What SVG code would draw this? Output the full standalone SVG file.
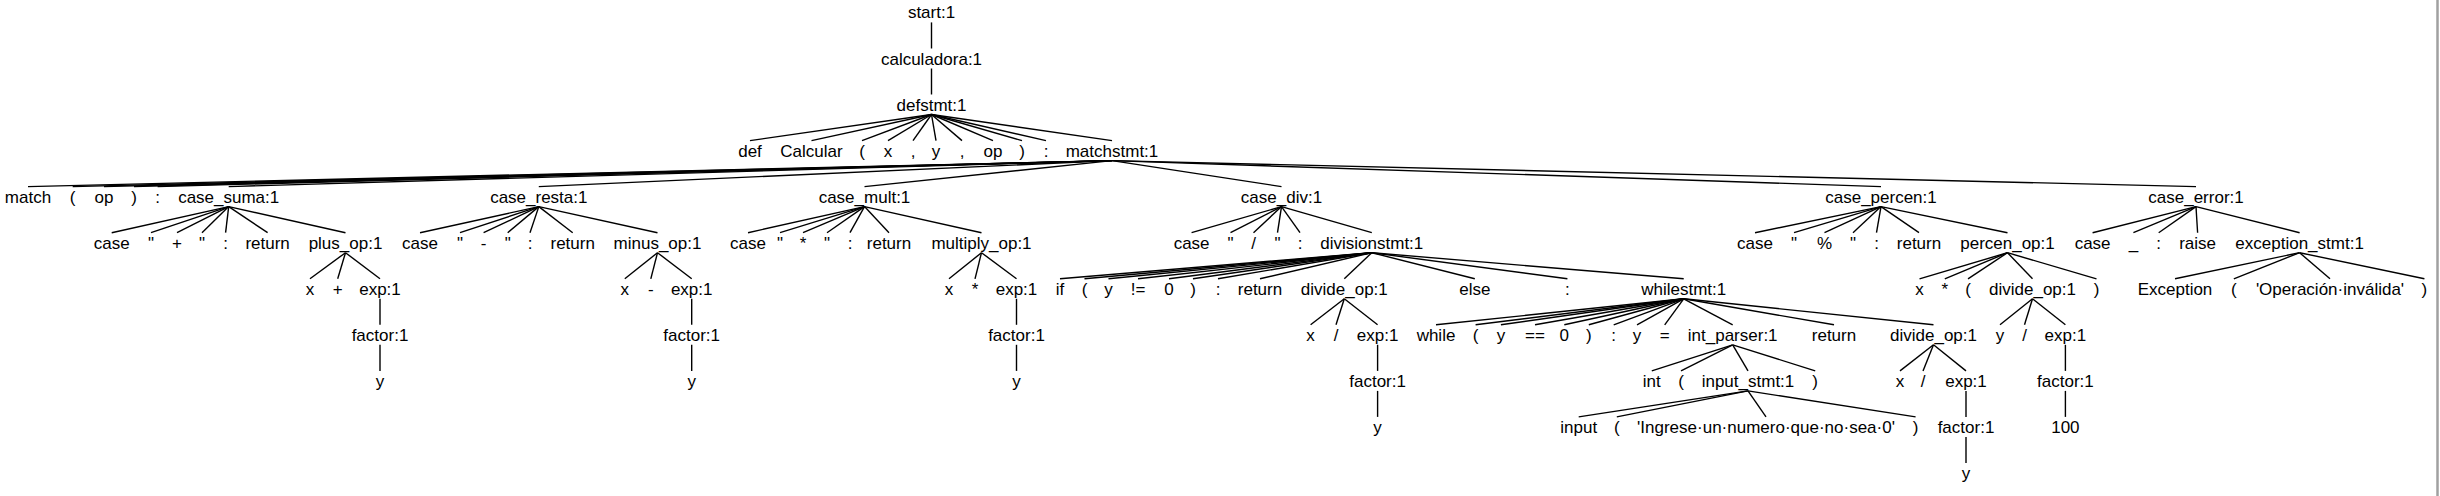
<svg xmlns="http://www.w3.org/2000/svg" width="2440" height="496" viewBox="0 0 2440 496">
<style>
text { font-family: "Liberation Sans", Arial, Helvetica, sans-serif; font-size: 17px; text-anchor: middle; fill: #000; }
#connectors line { stroke: #000; stroke-width: 1.4; }
</style>
<rect width="2440" height="496" fill="#fff"/>
<line x1="2437.5" y1="0" x2="2437.5" y2="496" stroke="#a0a0a0" stroke-width="2.5"/>
<g id="connectors">
<line x1="931.5" y1="22.4" x2="931.5" y2="48.5"/>
<line x1="931.5" y1="68.5" x2="931.5" y2="94.5"/>
<line x1="931.5" y1="114.5" x2="750" y2="140.6"/>
<line x1="931.5" y1="114.5" x2="811.5" y2="140.6"/>
<line x1="931.5" y1="114.5" x2="862" y2="140.6"/>
<line x1="931.5" y1="114.5" x2="888" y2="140.6"/>
<line x1="931.5" y1="114.5" x2="913" y2="140.6"/>
<line x1="931.5" y1="114.5" x2="936" y2="140.6"/>
<line x1="931.5" y1="114.5" x2="962" y2="140.6"/>
<line x1="931.5" y1="114.5" x2="993" y2="140.6"/>
<line x1="931.5" y1="114.5" x2="1022" y2="140.6"/>
<line x1="931.5" y1="114.5" x2="1046" y2="140.6"/>
<line x1="931.5" y1="114.5" x2="1112" y2="140.6"/>
<line x1="1112" y1="160.6" x2="28" y2="186.6"/>
<line x1="1112" y1="160.6" x2="72.7" y2="186.6"/>
<line x1="1112" y1="160.6" x2="104" y2="186.6"/>
<line x1="1112" y1="160.6" x2="134" y2="186.6"/>
<line x1="1112" y1="160.6" x2="157.6" y2="186.6"/>
<line x1="1112" y1="160.6" x2="228.7" y2="186.6"/>
<line x1="1112" y1="160.6" x2="538.8" y2="186.6"/>
<line x1="1112" y1="160.6" x2="864.5" y2="186.6"/>
<line x1="1112" y1="160.6" x2="1281.5" y2="186.6"/>
<line x1="1112" y1="160.6" x2="1881" y2="186.6"/>
<line x1="1112" y1="160.6" x2="2196" y2="186.6"/>
<line x1="228.7" y1="206.6" x2="111.7" y2="232.7"/>
<line x1="228.7" y1="206.6" x2="151" y2="232.7"/>
<line x1="228.7" y1="206.6" x2="177" y2="232.7"/>
<line x1="228.7" y1="206.6" x2="202" y2="232.7"/>
<line x1="228.7" y1="206.6" x2="225.6" y2="232.7"/>
<line x1="228.7" y1="206.6" x2="267.6" y2="232.7"/>
<line x1="228.7" y1="206.6" x2="345.5" y2="232.7"/>
<line x1="538.8" y1="206.6" x2="420" y2="232.7"/>
<line x1="538.8" y1="206.6" x2="460" y2="232.7"/>
<line x1="538.8" y1="206.6" x2="483.6" y2="232.7"/>
<line x1="538.8" y1="206.6" x2="507.7" y2="232.7"/>
<line x1="538.8" y1="206.6" x2="530" y2="232.7"/>
<line x1="538.8" y1="206.6" x2="572.7" y2="232.7"/>
<line x1="538.8" y1="206.6" x2="657.5" y2="232.7"/>
<line x1="864.5" y1="206.6" x2="748" y2="232.7"/>
<line x1="864.5" y1="206.6" x2="780" y2="232.7"/>
<line x1="864.5" y1="206.6" x2="803" y2="232.7"/>
<line x1="864.5" y1="206.6" x2="827" y2="232.7"/>
<line x1="864.5" y1="206.6" x2="850" y2="232.7"/>
<line x1="864.5" y1="206.6" x2="889" y2="232.7"/>
<line x1="864.5" y1="206.6" x2="981.5" y2="232.7"/>
<line x1="1281.5" y1="206.6" x2="1191.6" y2="232.7"/>
<line x1="1281.5" y1="206.6" x2="1230.5" y2="232.7"/>
<line x1="1281.5" y1="206.6" x2="1253.5" y2="232.7"/>
<line x1="1281.5" y1="206.6" x2="1277.5" y2="232.7"/>
<line x1="1281.5" y1="206.6" x2="1300" y2="232.7"/>
<line x1="1281.5" y1="206.6" x2="1371.8" y2="232.7"/>
<line x1="1881" y1="206.6" x2="1755" y2="232.7"/>
<line x1="1881" y1="206.6" x2="1794" y2="232.7"/>
<line x1="1881" y1="206.6" x2="1824.5" y2="232.7"/>
<line x1="1881" y1="206.6" x2="1853" y2="232.7"/>
<line x1="1881" y1="206.6" x2="1876.5" y2="232.7"/>
<line x1="1881" y1="206.6" x2="1919" y2="232.7"/>
<line x1="1881" y1="206.6" x2="2007.5" y2="232.7"/>
<line x1="2196" y1="206.6" x2="2092.6" y2="232.7"/>
<line x1="2196" y1="206.6" x2="2133.4" y2="232.7"/>
<line x1="2196" y1="206.6" x2="2158.7" y2="232.7"/>
<line x1="2196" y1="206.6" x2="2197.6" y2="232.7"/>
<line x1="2196" y1="206.6" x2="2299.6" y2="232.7"/>
<line x1="345.5" y1="252.7" x2="310" y2="278.8"/>
<line x1="345.5" y1="252.7" x2="337.7" y2="278.8"/>
<line x1="345.5" y1="252.7" x2="380" y2="278.8"/>
<line x1="657.5" y1="252.7" x2="624.8" y2="278.8"/>
<line x1="657.5" y1="252.7" x2="650.8" y2="278.8"/>
<line x1="657.5" y1="252.7" x2="691.7" y2="278.8"/>
<line x1="981.5" y1="252.7" x2="949" y2="278.8"/>
<line x1="981.5" y1="252.7" x2="975" y2="278.8"/>
<line x1="981.5" y1="252.7" x2="1016.5" y2="278.8"/>
<line x1="1371.8" y1="252.7" x2="1060" y2="278.8"/>
<line x1="1371.8" y1="252.7" x2="1084.5" y2="278.8"/>
<line x1="1371.8" y1="252.7" x2="1108.5" y2="278.8"/>
<line x1="1371.8" y1="252.7" x2="1138" y2="278.8"/>
<line x1="1371.8" y1="252.7" x2="1169" y2="278.8"/>
<line x1="1371.8" y1="252.7" x2="1193" y2="278.8"/>
<line x1="1371.8" y1="252.7" x2="1218" y2="278.8"/>
<line x1="1371.8" y1="252.7" x2="1260" y2="278.8"/>
<line x1="1371.8" y1="252.7" x2="1344.3" y2="278.8"/>
<line x1="1371.8" y1="252.7" x2="1474.8" y2="278.8"/>
<line x1="1371.8" y1="252.7" x2="1567.4" y2="278.8"/>
<line x1="1371.8" y1="252.7" x2="1683.7" y2="278.8"/>
<line x1="2007.5" y1="252.7" x2="1919.5" y2="278.8"/>
<line x1="2007.5" y1="252.7" x2="1944.8" y2="278.8"/>
<line x1="2007.5" y1="252.7" x2="1968" y2="278.8"/>
<line x1="2007.5" y1="252.7" x2="2032.5" y2="278.8"/>
<line x1="2007.5" y1="252.7" x2="2096.5" y2="278.8"/>
<line x1="2299.6" y1="252.7" x2="2175" y2="278.8"/>
<line x1="2299.6" y1="252.7" x2="2233.8" y2="278.8"/>
<line x1="2299.6" y1="252.7" x2="2330" y2="278.8"/>
<line x1="2299.6" y1="252.7" x2="2424.4" y2="278.8"/>
<line x1="380" y1="298.8" x2="380" y2="324.8"/>
<line x1="691.7" y1="298.8" x2="691.7" y2="324.8"/>
<line x1="1016.5" y1="298.8" x2="1016.5" y2="324.8"/>
<line x1="1344.3" y1="298.8" x2="1310.6" y2="324.8"/>
<line x1="1344.3" y1="298.8" x2="1336" y2="324.8"/>
<line x1="1344.3" y1="298.8" x2="1377.6" y2="324.8"/>
<line x1="1683.7" y1="298.8" x2="1436" y2="324.8"/>
<line x1="1683.7" y1="298.8" x2="1475.6" y2="324.8"/>
<line x1="1683.7" y1="298.8" x2="1500.9" y2="324.8"/>
<line x1="1683.7" y1="298.8" x2="1535" y2="324.8"/>
<line x1="1683.7" y1="298.8" x2="1564.3" y2="324.8"/>
<line x1="1683.7" y1="298.8" x2="1588.8" y2="324.8"/>
<line x1="1683.7" y1="298.8" x2="1613.7" y2="324.8"/>
<line x1="1683.7" y1="298.8" x2="1637" y2="324.8"/>
<line x1="1683.7" y1="298.8" x2="1664.7" y2="324.8"/>
<line x1="1683.7" y1="298.8" x2="1732.7" y2="324.8"/>
<line x1="1683.7" y1="298.8" x2="1834" y2="324.8"/>
<line x1="1683.7" y1="298.8" x2="1933.5" y2="324.8"/>
<line x1="2032.5" y1="298.8" x2="2000" y2="324.8"/>
<line x1="2032.5" y1="298.8" x2="2024.5" y2="324.8"/>
<line x1="2032.5" y1="298.8" x2="2065.4" y2="324.8"/>
<line x1="380" y1="344.8" x2="380" y2="370.9"/>
<line x1="691.7" y1="344.8" x2="691.7" y2="370.9"/>
<line x1="1016.5" y1="344.8" x2="1016.5" y2="370.9"/>
<line x1="1377.6" y1="344.8" x2="1377.6" y2="370.9"/>
<line x1="1732.7" y1="344.8" x2="1651.8" y2="370.9"/>
<line x1="1732.7" y1="344.8" x2="1681" y2="370.9"/>
<line x1="1732.7" y1="344.8" x2="1748" y2="370.9"/>
<line x1="1732.7" y1="344.8" x2="1815.2" y2="370.9"/>
<line x1="1933.5" y1="344.8" x2="1900" y2="370.9"/>
<line x1="1933.5" y1="344.8" x2="1923" y2="370.9"/>
<line x1="1933.5" y1="344.8" x2="1966" y2="370.9"/>
<line x1="2065.4" y1="344.8" x2="2065.4" y2="370.9"/>
<line x1="1377.6" y1="390.9" x2="1377.6" y2="416.9"/>
<line x1="1748" y1="390.9" x2="1578.7" y2="416.9"/>
<line x1="1748" y1="390.9" x2="1616.8" y2="416.9"/>
<line x1="1748" y1="390.9" x2="1766" y2="416.9"/>
<line x1="1748" y1="390.9" x2="1915.6" y2="416.9"/>
<line x1="1966" y1="390.9" x2="1966" y2="416.9"/>
<line x1="2065.4" y1="390.9" x2="2065.4" y2="416.9"/>
<line x1="1966" y1="436.9" x2="1966" y2="463"/>
</g>
<g id="n0"><text x="931.5" y="18.4">start:1</text></g>
<g id="n1"><text x="931.5" y="64.5">calculadora:1</text></g>
<g id="n2"><text x="931.5" y="110.5">defstmt:1</text></g>
<g id="n3"><text x="750" y="156.6">def</text></g>
<g id="n4"><text x="811.5" y="156.6">Calcular</text></g>
<g id="n5"><text x="862" y="156.6">(</text></g>
<g id="n6"><text x="888" y="156.6">x</text></g>
<g id="n7"><text x="913" y="156.6">,</text></g>
<g id="n8"><text x="936" y="156.6">y</text></g>
<g id="n9"><text x="962" y="156.6">,</text></g>
<g id="n10"><text x="993" y="156.6">op</text></g>
<g id="n11"><text x="1022" y="156.6">)</text></g>
<g id="n12"><text x="1046" y="156.6">:</text></g>
<g id="n13"><text x="1112" y="156.6">matchstmt:1</text></g>
<g id="n14"><text x="28" y="202.6">match</text></g>
<g id="n15"><text x="72.7" y="202.6">(</text></g>
<g id="n16"><text x="104" y="202.6">op</text></g>
<g id="n17"><text x="134" y="202.6">)</text></g>
<g id="n18"><text x="157.6" y="202.6">:</text></g>
<g id="n19"><text x="228.7" y="202.6">case_suma:1</text></g>
<g id="n20"><text x="538.8" y="202.6">case_resta:1</text></g>
<g id="n21"><text x="864.5" y="202.6">case_mult:1</text></g>
<g id="n22"><text x="1281.5" y="202.6">case_div:1</text></g>
<g id="n23"><text x="1881" y="202.6">case_percen:1</text></g>
<g id="n24"><text x="2196" y="202.6">case_error:1</text></g>
<g id="n25"><text x="111.7" y="248.7">case</text></g>
<g id="n26"><text x="151" y="248.7">"</text></g>
<g id="n27"><text x="177" y="248.7">+</text></g>
<g id="n28"><text x="202" y="248.7">"</text></g>
<g id="n29"><text x="225.6" y="248.7">:</text></g>
<g id="n30"><text x="267.6" y="248.7">return</text></g>
<g id="n31"><text x="345.5" y="248.7">plus_op:1</text></g>
<g id="n32"><text x="420" y="248.7">case</text></g>
<g id="n33"><text x="460" y="248.7">"</text></g>
<g id="n34"><text x="483.6" y="248.7">-</text></g>
<g id="n35"><text x="507.7" y="248.7">"</text></g>
<g id="n36"><text x="530" y="248.7">:</text></g>
<g id="n37"><text x="572.7" y="248.7">return</text></g>
<g id="n38"><text x="657.5" y="248.7">minus_op:1</text></g>
<g id="n39"><text x="748" y="248.7">case</text></g>
<g id="n40"><text x="780" y="248.7">"</text></g>
<g id="n41"><text x="803" y="248.7">*</text></g>
<g id="n42"><text x="827" y="248.7">"</text></g>
<g id="n43"><text x="850" y="248.7">:</text></g>
<g id="n44"><text x="889" y="248.7">return</text></g>
<g id="n45"><text x="981.5" y="248.7">multiply_op:1</text></g>
<g id="n46"><text x="1191.6" y="248.7">case</text></g>
<g id="n47"><text x="1230.5" y="248.7">"</text></g>
<g id="n48"><text x="1253.5" y="248.7">/</text></g>
<g id="n49"><text x="1277.5" y="248.7">"</text></g>
<g id="n50"><text x="1300" y="248.7">:</text></g>
<g id="n51"><text x="1371.8" y="248.7">divisionstmt:1</text></g>
<g id="n52"><text x="1755" y="248.7">case</text></g>
<g id="n53"><text x="1794" y="248.7">"</text></g>
<g id="n54"><text x="1824.5" y="248.7">%</text></g>
<g id="n55"><text x="1853" y="248.7">"</text></g>
<g id="n56"><text x="1876.5" y="248.7">:</text></g>
<g id="n57"><text x="1919" y="248.7">return</text></g>
<g id="n58"><text x="2007.5" y="248.7">percen_op:1</text></g>
<g id="n59"><text x="2092.6" y="248.7">case</text></g>
<g id="n60"><text x="2133.4" y="248.7">_</text></g>
<g id="n61"><text x="2158.7" y="248.7">:</text></g>
<g id="n62"><text x="2197.6" y="248.7">raise</text></g>
<g id="n63"><text x="2299.6" y="248.7">exception_stmt:1</text></g>
<g id="n64"><text x="310" y="294.8">x</text></g>
<g id="n65"><text x="337.7" y="294.8">+</text></g>
<g id="n66"><text x="380" y="294.8">exp:1</text></g>
<g id="n67"><text x="624.8" y="294.8">x</text></g>
<g id="n68"><text x="650.8" y="294.8">-</text></g>
<g id="n69"><text x="691.7" y="294.8">exp:1</text></g>
<g id="n70"><text x="949" y="294.8">x</text></g>
<g id="n71"><text x="975" y="294.8">*</text></g>
<g id="n72"><text x="1016.5" y="294.8">exp:1</text></g>
<g id="n73"><text x="1060" y="294.8">if</text></g>
<g id="n74"><text x="1084.5" y="294.8">(</text></g>
<g id="n75"><text x="1108.5" y="294.8">y</text></g>
<g id="n76"><text x="1138" y="294.8">!=</text></g>
<g id="n77"><text x="1169" y="294.8">0</text></g>
<g id="n78"><text x="1193" y="294.8">)</text></g>
<g id="n79"><text x="1218" y="294.8">:</text></g>
<g id="n80"><text x="1260" y="294.8">return</text></g>
<g id="n81"><text x="1344.3" y="294.8">divide_op:1</text></g>
<g id="n82"><text x="1474.8" y="294.8">else</text></g>
<g id="n83"><text x="1567.4" y="294.8">:</text></g>
<g id="n84"><text x="1683.7" y="294.8">whilestmt:1</text></g>
<g id="n85"><text x="1919.5" y="294.8">x</text></g>
<g id="n86"><text x="1944.8" y="294.8">*</text></g>
<g id="n87"><text x="1968" y="294.8">(</text></g>
<g id="n88"><text x="2032.5" y="294.8">divide_op:1</text></g>
<g id="n89"><text x="2096.5" y="294.8">)</text></g>
<g id="n90"><text x="2175" y="294.8">Exception</text></g>
<g id="n91"><text x="2233.8" y="294.8">(</text></g>
<g id="n92"><text x="2330" y="294.8">'Operación·inválida'</text></g>
<g id="n93"><text x="2424.4" y="294.8">)</text></g>
<g id="n94"><text x="380" y="340.8">factor:1</text></g>
<g id="n95"><text x="691.7" y="340.8">factor:1</text></g>
<g id="n96"><text x="1016.5" y="340.8">factor:1</text></g>
<g id="n97"><text x="1310.6" y="340.8">x</text></g>
<g id="n98"><text x="1336" y="340.8">/</text></g>
<g id="n99"><text x="1377.6" y="340.8">exp:1</text></g>
<g id="n100"><text x="1436" y="340.8">while</text></g>
<g id="n101"><text x="1475.6" y="340.8">(</text></g>
<g id="n102"><text x="1500.9" y="340.8">y</text></g>
<g id="n103"><text x="1535" y="340.8">==</text></g>
<g id="n104"><text x="1564.3" y="340.8">0</text></g>
<g id="n105"><text x="1588.8" y="340.8">)</text></g>
<g id="n106"><text x="1613.7" y="340.8">:</text></g>
<g id="n107"><text x="1637" y="340.8">y</text></g>
<g id="n108"><text x="1664.7" y="340.8">=</text></g>
<g id="n109"><text x="1732.7" y="340.8">int_parser:1</text></g>
<g id="n110"><text x="1834" y="340.8">return</text></g>
<g id="n111"><text x="1933.5" y="340.8">divide_op:1</text></g>
<g id="n112"><text x="2000" y="340.8">y</text></g>
<g id="n113"><text x="2024.5" y="340.8">/</text></g>
<g id="n114"><text x="2065.4" y="340.8">exp:1</text></g>
<g id="n115"><text x="380" y="386.9">y</text></g>
<g id="n116"><text x="691.7" y="386.9">y</text></g>
<g id="n117"><text x="1016.5" y="386.9">y</text></g>
<g id="n118"><text x="1377.6" y="386.9">factor:1</text></g>
<g id="n119"><text x="1651.8" y="386.9">int</text></g>
<g id="n120"><text x="1681" y="386.9">(</text></g>
<g id="n121"><text x="1748" y="386.9">input_stmt:1</text></g>
<g id="n122"><text x="1815.2" y="386.9">)</text></g>
<g id="n123"><text x="1900" y="386.9">x</text></g>
<g id="n124"><text x="1923" y="386.9">/</text></g>
<g id="n125"><text x="1966" y="386.9">exp:1</text></g>
<g id="n126"><text x="2065.4" y="386.9">factor:1</text></g>
<g id="n127"><text x="1377.6" y="432.9">y</text></g>
<g id="n128"><text x="1578.7" y="432.9">input</text></g>
<g id="n129"><text x="1616.8" y="432.9">(</text></g>
<g id="n130"><text x="1766" y="432.9">'Ingrese·un·numero·que·no·sea·0'</text></g>
<g id="n131"><text x="1915.6" y="432.9">)</text></g>
<g id="n132"><text x="1966" y="432.9">factor:1</text></g>
<g id="n133"><text x="2065.4" y="432.9">100</text></g>
<g id="n134"><text x="1966" y="479">y</text></g>
</svg>
